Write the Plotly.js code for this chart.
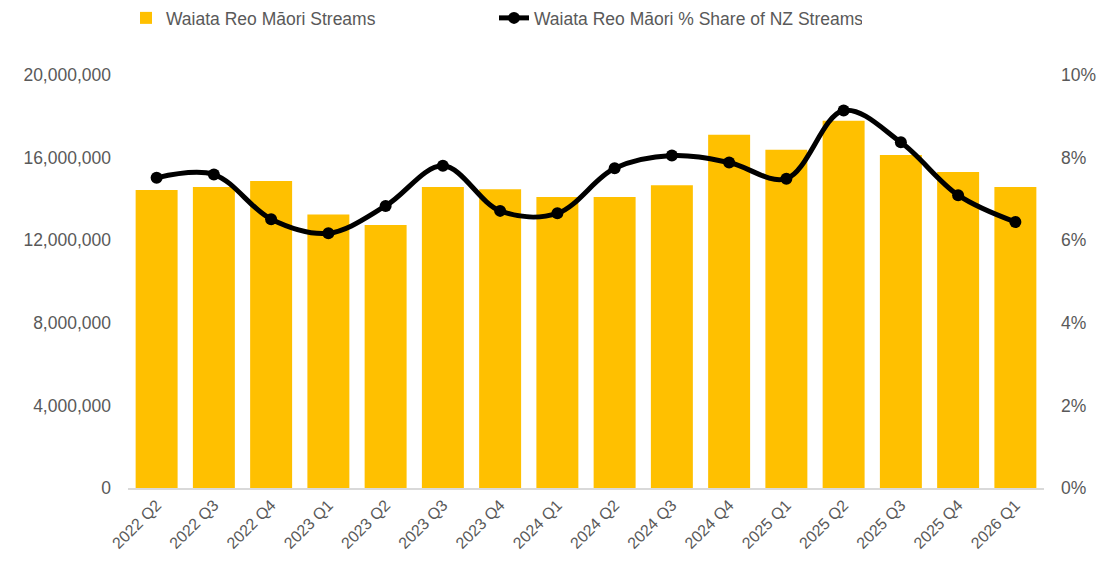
<!DOCTYPE html>
<html>
<head>
<meta charset="utf-8">
<script src="https://cdn.plot.ly/plotly-3.0.1.min.js"></script>
<style>html,body{margin:0;padding:0;background:#fff;}#chart{width:1119px;height:562px;}</style>
</head>
<body>
<div id="chart"></div>
<script>
const quarters = ["2022 Q2","2022 Q3","2022 Q4","2023 Q1","2023 Q2","2023 Q3","2023 Q4","2024 Q1","2024 Q2","2024 Q3","2024 Q4","2025 Q1","2025 Q2","2025 Q3","2025 Q4","2026 Q1"];
const streams = [14430000,14580000,14870000,13250000,12740000,14580000,14470000,14090000,14090000,14660000,17110000,16380000,17790000,16130000,15300000,14580000];
const sharePct = [0.0751,0.0759,0.0651,0.0617,0.0683,0.0780,0.0671,0.0665,0.0774,0.0805,0.0788,0.0749,0.0914,0.0837,0.0709,0.0644];
const leftTicks = [0,4000000,8000000,12000000,16000000,20000000];
const rightTicks = [0,0.02,0.04,0.06,0.08,0.10];

const fontFam = "Liberation Sans, Arial, sans-serif";
const traces = [
  {type:'bar', x:quarters, y:streams, name:'Waiata Reo Māori Streams',
   marker:{color:'#FFC000'}, yaxis:'y'},
  {type:'scatter', mode:'lines+markers', x:quarters, y:sharePct, name:'Waiata Reo Māori % Share of NZ Streams',
   line:{color:'#000000', width:5, shape:'spline', smoothing:1}, marker:{color:'#000000', size:12},
   yaxis:'y2'}
];
const layout = {
  width:1119, height:562,
  margin:{l:128, r:75, t:75, b:74, autoexpand:false},
  paper_bgcolor:'#fff', plot_bgcolor:'#fff',
  font:{family:fontFam, color:'#595959', size:17.5},
  bargap:0.267,
  showlegend:true,
  legend:{orientation:'h', xref:'container', yref:'container', x:126/1119, y:1-18/562,
          xanchor:'left', yanchor:'middle',
          font:{size:17.5, color:'#595959'}, entrywidth:323, entrywidthmode:'pixels', itemwidth:30},
  xaxis:{type:'category', range:[-0.5, quarters.length-0.5], autorange:false, showgrid:false, showline:true,
         linecolor:'#d9d9d9', linewidth:1.5,
         tickangle:-45, tickfont:{size:16, color:'#595959'}, ticks:'', zeroline:false},
  yaxis:{range:[0,20000000], tickvals:leftTicks, tickformat:',d', showgrid:false, zeroline:false,
         showline:false, ticks:'', tickfont:{size:17.5, color:'#595959'}, ticklabelstandoff:16},
  yaxis2:{range:[0,0.1], tickvals:rightTicks, tickformat:'.0%', overlaying:'y', side:'right',
          showgrid:false, zeroline:false, showline:false, ticks:'', tickfont:{size:17.5, color:'#595959'}, ticklabelstandoff:16}
};
Plotly.newPlot('chart', traces, layout, {displayModeBar:false, staticPlot:true});
</script>
</body>
</html>
